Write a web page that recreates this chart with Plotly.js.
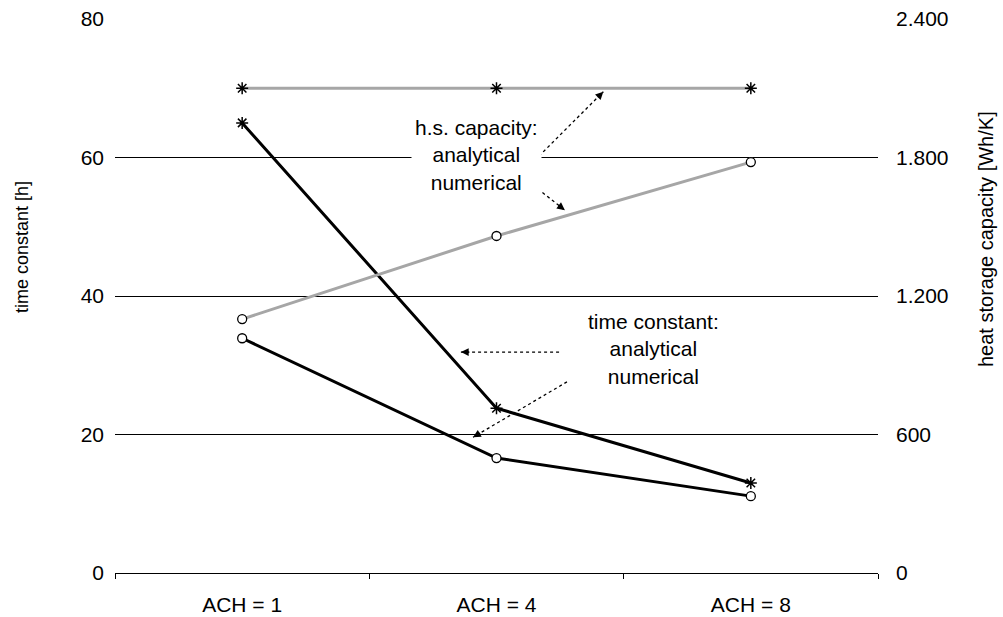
<!DOCTYPE html>
<html>
<head>
<meta charset="utf-8">
<script src="https://cdn.plot.ly/plotly-3.0.1.min.js"></script>
<style>html,body{margin:0;padding:0;background:#fff;}#chart{width:1003px;height:617px;}</style>
</head>
<body>
<div id="chart"></div>
<script>
// ---- data ----
var categories = ['ACH = 1', 'ACH = 4', 'ACH = 8'];
var tcAnalytical = [65.0, 23.8, 13.0];     // time constant [h], analytical
var tcNumerical = [33.9, 16.6, 11.1];      // time constant [h], numerical
var hsAnalytical = [2100, 2100, 2100];     // heat storage capacity [Wh/K], analytical
var hsNumerical = [1100, 1460, 1780];      // heat storage capacity [Wh/K], numerical
var leftTicks = [0, 20, 40, 60, 80];
var rightTicks = [0, 600, 1200, 1800, 2400];

var FONT = 'Liberation Sans, Arial, sans-serif';
var GRAY = '#a6a6a6';

function starMarker() {
  return {symbol: 'asterisk-open', size: 10, color: '#000', line: {color: '#000', width: 1.5}};
}
function circleMarker() {
  return {symbol: 'circle', size: 9, color: '#fff', line: {color: '#000', width: 1.3}};
}

var traces = [
  {x: categories, y: hsAnalytical, yaxis: 'y2', mode: 'lines+markers',
   line: {color: GRAY, width: 3}, marker: starMarker(), name: 'h.s. analytical'},
  {x: categories, y: hsNumerical, yaxis: 'y2', mode: 'lines+markers',
   line: {color: GRAY, width: 3}, marker: circleMarker(), name: 'h.s. numerical'},
  {x: categories, y: tcAnalytical, mode: 'lines+markers',
   line: {color: '#000', width: 3}, marker: starMarker(), name: 'tc analytical'},
  {x: categories, y: tcNumerical, mode: 'lines+markers',
   line: {color: '#000', width: 3}, marker: circleMarker(), name: 'tc numerical'}
];

// dotted pointer arrows (category index / left-axis units): [x0, y0, x1(tip), y1(tip), ax, ay]
var pointers = [
  [1.167, 60.2, 1.420, 69.5, -7, 7],
  [1.1435, 56.0, 1.269, 52.4, -8, -6],
  [1.246, 31.9, 0.860, 31.9, 10, 0],
  [1.277, 27.6, 0.9076, 19.6, 8.6, -5]
];

var shapes = pointers.map(function (p) {
  return {type: 'line', xref: 'x', yref: 'y', x0: p[0], y0: p[1], x1: p[2], y1: p[3],
          line: {color: '#000', width: 1.3, dash: 'dot'}};
});

var annotations = pointers.map(function (p) {
  return {xref: 'x', yref: 'y', x: p[2], y: p[3], ax: p[4], ay: p[5], text: '',
          showarrow: true, arrowhead: 2, arrowsize: 1.3, arrowwidth: 1.2, arrowcolor: '#000'};
});

annotations.push({
  xref: 'paper', yref: 'paper', x: (476.5 - 115) / 763, y: (573 - 155) / 554,
  text: 'h.s. capacity:<br>analytical<br>numerical', showarrow: false,
  font: {family: FONT, size: 21, color: '#000'}, bgcolor: '#fff', borderpad: 3,
  xanchor: 'center', yanchor: 'middle', align: 'center'
});
annotations.push({
  xref: 'paper', yref: 'paper', x: (653 - 115) / 763, y: (573 - 349) / 554,
  text: 'time constant:<br>analytical<br>numerical', showarrow: false,
  font: {family: FONT, size: 21, color: '#000'},
  xanchor: 'center', yanchor: 'middle', align: 'center'
});
annotations.push({
  xref: 'paper', yref: 'paper', x: (22 - 115) / 763, y: (573 - 247) / 554,
  text: 'time constant [h]', showarrow: false, textangle: -90,
  font: {family: FONT, size: 18, color: '#000'}, xanchor: 'center', yanchor: 'middle'
});
annotations.push({
  xref: 'paper', yref: 'paper', x: (986 - 115) / 763, y: (573 - 239) / 554,
  text: 'heat storage capacity [Wh/K]', showarrow: false, textangle: -90,
  font: {family: FONT, size: 20, color: '#000'}, xanchor: 'center', yanchor: 'middle'
});

var layout = {
  width: 1003, height: 617,
  margin: {l: 115, r: 125, t: 19, b: 44},
  paper_bgcolor: '#fff', plot_bgcolor: '#fff',
  showlegend: false,
  separators: ',.',
  font: {family: FONT, size: 20, color: '#000'},
  xaxis: {
    type: 'category', range: [-0.5, 2.5], showline: true, linecolor: '#000', linewidth: 1,
    ticks: 'outside', tickson: 'boundaries', ticklen: 5, tickcolor: '#000', tickwidth: 1,
    showgrid: false, zeroline: false, fixedrange: true, ticklabelstandoff: 13,
    tickfont: {family: FONT, size: 21, color: '#000'}
  },
  yaxis: {
    range: [0, 80], tickvals: leftTicks, ticktext: leftTicks.map(String),
    showgrid: true, gridcolor: '#000', gridwidth: 1, zeroline: false, showline: false,
    ticks: '', ticklabelstandoff: 10,
    tickfont: {family: FONT, size: 21, color: '#000'}
  },
  yaxis2: {
    range: [0, 2400], overlaying: 'y', side: 'right', tickvals: rightTicks,
    tickformat: ',d', showgrid: false, zeroline: false, showline: false,
    ticks: '', ticklabelstandoff: 17,
    tickfont: {family: FONT, size: 21, color: '#000'}
  },
  shapes: shapes,
  annotations: annotations
};

Plotly.newPlot('chart', traces, layout, {displayModeBar: false, staticPlot: true});
</script>
</body>
</html>
